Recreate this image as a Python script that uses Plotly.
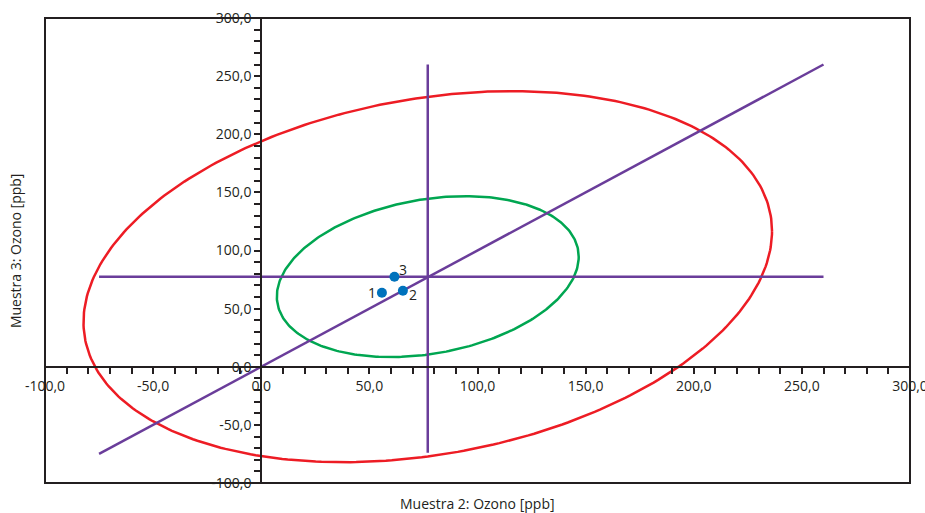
import numpy as np
import plotly.graph_objects as go

# ---- data ----
x_tick_vals = [-100, -50, 0, 50, 100, 150, 200, 250, 300]
x_tick_text = ["-100,0", "-50,0", "0,0", "50,0", "100,0", "150,0", "200,0", "250,0", "300,0"]
y_tick_vals = [-100, -50, 0, 50, 100, 150, 200, 250, 300]
y_tick_text = ["-100,0", "-50,0", "0,0", "50,0", "100,0", "150,0", "200,0", "250,0", "300,0"]

point_labels = ["1", "2", "3"]
point_x = [55.8, 65.5, 61.6]
point_y = [63.7, 65.4, 77.4]

center_x = 77.0
center_y = 77.5

# reference lines
hline_x = [-75, 260]
hline_y = [center_y, center_y]
vline_x = [center_x, center_x]
vline_y = [-74, 260]
diag_x = [-75, 260]
diag_y = [-75, 260]

# confidence ellipses: half-extent in x, half-extent in y, correlation
red_ellipse = dict(sx=159.2, sy=159.6, rho=0.245)
green_ellipse = dict(sx=69.8, sy=69.2, rho=0.247)

RED = "#ed1c24"
GREEN = "#00a651"
PURPLE = "#6a3d9a"
BLUE = "#0072bc"
INK = "#231f20"
FONT = "Open Sans, Noto Sans, sans-serif"


def ellipse(p, n=361):
    t = np.linspace(0, 2 * np.pi, n)
    phi = np.arccos(p["rho"])
    return center_x + p["sx"] * np.cos(t), center_y + p["sy"] * np.cos(t - phi)


fig = go.Figure()

ex, ey = ellipse(red_ellipse)
fig.add_trace(go.Scatter(x=ex, y=ey, mode="lines", line=dict(color=RED, width=2.5), hoverinfo="skip"))
ex, ey = ellipse(green_ellipse)
fig.add_trace(go.Scatter(x=ex, y=ey, mode="lines", line=dict(color=GREEN, width=2.5), hoverinfo="skip"))

for lx, ly in [(hline_x, hline_y), (vline_x, vline_y), (diag_x, diag_y)]:
    fig.add_trace(go.Scatter(x=lx, y=ly, mode="lines", line=dict(color=PURPLE, width=2.5), hoverinfo="skip"))

fig.add_trace(go.Scatter(
    x=point_x, y=point_y, mode="markers",
    marker=dict(color=BLUE, size=10),
))

# point labels placed next to each point (pixel offsets from the point)
label_shifts = [(-9.5, 0), (10.5, -4), (9, 7)]
annotations = []
for lab, px, py, (sx, sy) in zip(point_labels, point_x, point_y, label_shifts):
    annotations.append(dict(text=lab, x=px, y=py, xref="x", yref="y", showarrow=False,
                            xanchor="center", yanchor="middle", xshift=sx, yshift=sy,
                            font=dict(family=FONT, size=14, color=INK)))

axis_common = dict(
    range=[-100, 300], autorange=False,
    anchor="free", position=0.25,
    showline=True, linewidth=2, linecolor=INK,
    ticks="outside", ticklen=6, tickwidth=2, tickcolor=INK,
    minor=dict(dtick=10, ticks="outside", ticklen=6, tickwidth=2, tickcolor=INK),
    showgrid=False, zeroline=False,
    tickfont=dict(family=FONT, size=14, color=INK),
    ticklabeloverflow="allow",
    automargin=False,
)

annotations += [
    dict(text="Muestra 2: Ozono [ppb]", xref="paper", yref="paper", x=0.5, y=-0.045,
         xanchor="center", yanchor="middle", showarrow=False,
         font=dict(family=FONT, size=14, color=INK)),
    dict(text="Muestra 3: Ozono [ppb]", xref="paper", yref="paper", x=-0.034, y=0.5,
         xanchor="center", yanchor="middle", showarrow=False, textangle=-90,
         font=dict(family=FONT, size=14, color=INK)),
]

fig.update_layout(
    width=925, height=513,
    margin=dict(l=45, r=15, t=18, b=30, autoexpand=False),
    paper_bgcolor="white", plot_bgcolor="white",
    showlegend=False,
    xaxis=dict(tickvals=x_tick_vals, ticktext=x_tick_text, **axis_common),
    yaxis=dict(tickvals=y_tick_vals, ticktext=y_tick_text, **axis_common),
    shapes=[dict(type="rect", xref="paper", yref="paper", x0=0, x1=1, y0=0, y1=1,
                 line=dict(color=INK, width=2), layer="above")],
    annotations=annotations,
)

fig.write_html(
    "out.html",
    config={"displayModeBar": False},
    post_script="document.body.style.margin='0';document.body.style.overflow='hidden';",
)
